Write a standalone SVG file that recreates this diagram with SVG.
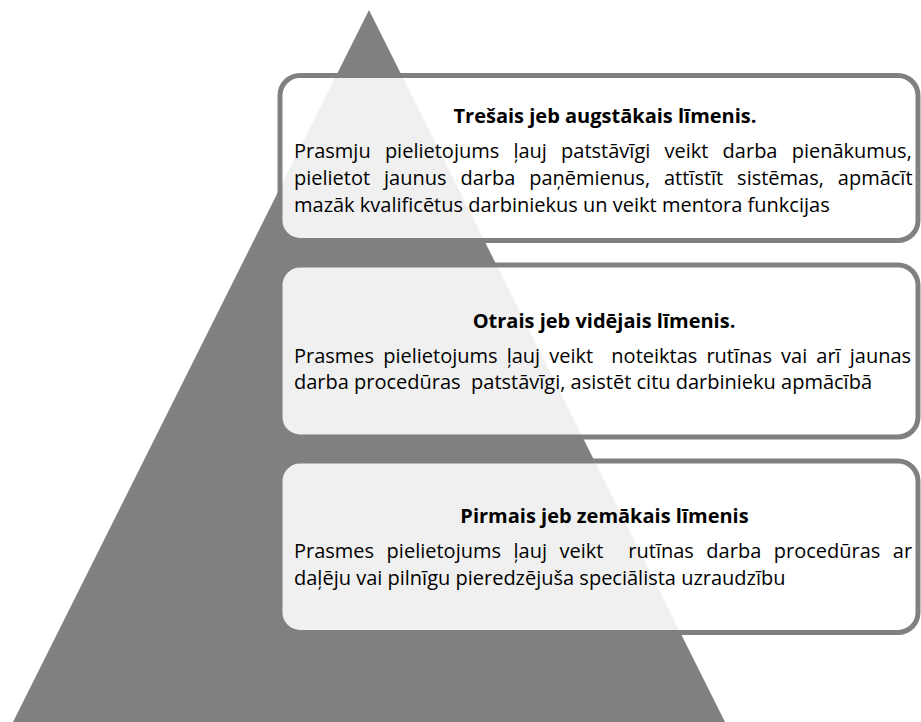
<svg xmlns="http://www.w3.org/2000/svg" width="921" height="722" viewBox="0 0 921 722">
<style>
.box{fill:#ffffff;fill-opacity:0.88;stroke:#808080;stroke-width:5}
.title{font-family:"Open Sans","Noto Sans","Liberation Sans",sans-serif;font-size:20px;font-weight:bold;fill:#000;text-anchor:middle}
.body{font-family:"Open Sans","Noto Sans","Liberation Sans",sans-serif;font-size:20px;fill:#000}
</style>
<rect width="921" height="722" fill="#ffffff"/>
<g id="pyramid">
<polygon points="369,10 13,722 725,722" fill="#808080"/>
</g>
<g id="connectors"></g>
<g id="level3">
<rect class="box" x="280" y="75.5" width="638" height="165" rx="20" ry="20"/>
<text class="title" x="605" y="123">Trešais jeb augstākais līmenis.</text>
<text class="body" x="294" y="158" word-spacing="9">Prasmju pielietojums ļauj patstāvīgi veikt darba pienākumus,</text>
<text class="body" x="294" y="185" word-spacing="8.7">pielietot jaunus darba paņēmienus, attīstīt sistēmas, apmācīt</text>
<text class="body" x="294" y="212">mazāk kvalificētus darbiniekus un veikt mentora funkcijas</text>
</g>
<g id="level2">
<rect class="box" x="280" y="265" width="638" height="172" rx="20" ry="20"/>
<text class="title" x="604" y="328">Otrais jeb vidējais līmenis.</text>
<text class="body" x="294" y="363" word-spacing="3.9" xml:space="preserve">Prasmes pielietojums ļauj veikt  noteiktas rutīnas vai arī jaunas</text>
<text class="body" x="294" y="389" xml:space="preserve">darba procedūras  patstāvīgi, asistēt citu darbinieku apmācībā</text>
</g>
<g id="level1">
<rect class="box" x="280" y="461" width="638" height="171.5" rx="20" ry="20"/>
<text class="title" x="604.5" y="523">Pirmais jeb zemākais līmenis</text>
<text class="body" x="294" y="558" word-spacing="7.3" xml:space="preserve">Prasmes pielietojums ļauj veikt  rutīnas darba procedūras ar</text>
<text class="body" x="294" y="585">daļēju vai pilnīgu pieredzējuša speciālista uzraudzību</text>
</g>
</svg>
